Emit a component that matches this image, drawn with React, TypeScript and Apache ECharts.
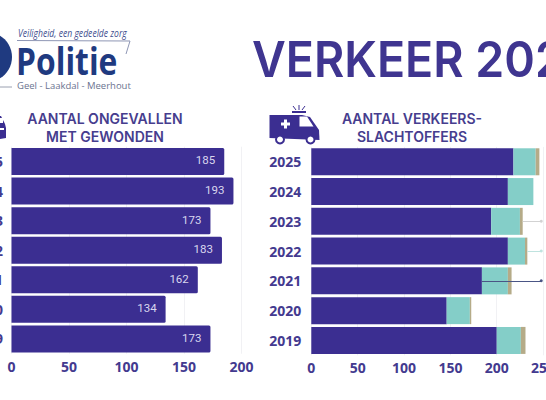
import React, { useEffect, useRef } from "react";
import * as echarts from "echarts";

const years = ["2025", "2024", "2023", "2022", "2021", "2020", "2019"];
const accidents = [185, 193, 173, 183, 162, 134, 173];
const victimsLight = [218, 212, 194, 212, 184, 146, 200];
const victimsMiddle = [24, 27.5, 31, 18.5, 28, 25, 26];
const victimsHeavy = [4, 0, 3, 2.5, 4, 1.5, 5];
const leftTicksMax = 200;
const rightTicksMax = 250;

const PURPLE = "#3b2e91";
const TEAL = "#84cec8";
const TAN = "#b5ab88";
const TEXT = "#433a8f";
const FONT = "'Open Sans', sans-serif";

const BOLD = { color: TEXT, fontFamily: FONT, fontWeight: 700, fontSize: 14 };

const gridLine = { show: true, lineStyle: { color: "#f1f1f4", width: 1 } };

const txt = (x: number, y: number, text: string, style: any, scaleX = 1) => ({
  type: "text",
  x,
  y,
  scaleX,
  silent: true,
  style: { text, verticalAlign: "middle", ...style },
});

const heading = (x: number, y: number, text: string) =>
  txt(x, y, text, {
    fill: "#463d8e",
    fontFamily: "Inter, sans-serif",
    fontWeight: 600,
    fontSize: 14,
    align: "center",
  });

const graphics: any[] = [
  // logo
  { type: "circle", shape: { cx: -13, cy: 57, r: 25 }, style: { fill: "#1f3a80" } },
  { type: "line", shape: { x1: 0, y1: 87, x2: 12, y2: 87 }, style: { stroke: "#9aa0b0", lineWidth: 1 } },
  txt(18, 33, "Veiligheid, een gedeelde zorg", {
    fill: "#3f4f8f",
    fontFamily: "'Open Sans', sans-serif",
    fontStyle: "italic",
    fontSize: 10,
  }, 0.86),
  { type: "polyline", shape: { points: [[17, 40.5], [130, 41], [126, 54]] }, style: { fill: "none", stroke: "#8f97b5", lineWidth: 1 } },
  txt(16, 61, "Politie", { fill: "#1f3a80", fontFamily: "'Open Sans', sans-serif", fontWeight: 700, fontSize: 37 }, 0.86),
  txt(17, 85, "Geel - Laakdal - Meerhout", { fill: "#6b7390", fontFamily: "'Open Sans', sans-serif", fontSize: 9.5 }),
  // main title
  txt(252, 59, "VERKEER 2025", {
    fill: "#3f3590",
    fontFamily: "Inter, sans-serif",
    fontWeight: 600,
    fontSize: 50,
  }, 0.93),
  // headings
  heading(105, 118, "AANTAL ONGEVALLEN"),
  heading(105, 136, "MET GEWONDEN"),
  heading(412, 118, "AANTAL VERKEERS-"),
  heading(412, 136, "SLACHTOFFERS"),
  // car (clipped at the page edge)
  { type: "polygon", shape: { points: [[-6, 116], [1, 116], [5, 124], [6, 128], [6, 138], [-6, 140]] }, style: { fill: PURPLE } },
  { type: "rect", shape: { x: 0, y: 118, width: 3, height: 5 }, style: { fill: "#fff" } },
  { type: "rect", shape: { x: 0, y: 128, width: 4, height: 2 }, style: { fill: "#fff" } },
  // ambulance
  {
    type: "polygon",
    shape: { points: [[269.5, 115], [302, 115], [310, 117], [319, 130], [319.5, 140], [269.5, 138]] },
    style: { fill: PURPLE },
  },
  { type: "polygon", shape: { points: [[299.5, 116.5], [307, 116.5], [313.5, 126.5], [299.5, 126.5]] }, style: { fill: "#fff" } },
  { type: "rect", shape: { x: 281, y: 122.5, width: 9, height: 3 }, style: { fill: "#fff" } },
  { type: "rect", shape: { x: 284, y: 119.5, width: 3, height: 9 }, style: { fill: "#fff" } },
  { type: "circle", shape: { cx: 280, cy: 139.5, r: 4 }, style: { fill: "#fff", stroke: PURPLE, lineWidth: 2 } },
  { type: "circle", shape: { cx: 310.5, cy: 139.5, r: 4 }, style: { fill: "#fff", stroke: PURPLE, lineWidth: 2 } },
  { type: "line", shape: { x1: 299, y1: 105, x2: 299, y2: 110 }, style: { stroke: PURPLE, lineWidth: 1 } },
  { type: "line", shape: { x1: 293, y1: 106, x2: 296, y2: 110 }, style: { stroke: PURPLE, lineWidth: 1 } },
  { type: "line", shape: { x1: 305, y1: 106, x2: 302, y2: 110 }, style: { stroke: PURPLE, lineWidth: 1 } },
  { type: "line", shape: { x1: 292, y1: 112, x2: 306, y2: 112 }, style: { stroke: PURPLE, lineWidth: 2 } },
];

export default function App() {
  const ref = useRef<HTMLDivElement>(null);
  useEffect(() => {
    document.body.style.margin = "0";
    const chart = echarts.init(ref.current!, undefined, { renderer: "svg" });
    const leader = (from: number, year: string, color: string) => [
      { coord: [from, year], lineStyle: { color, width: 1, type: "solid" } },
      { coord: [rightTicksMax - 2, year] },
    ];
    chart.setOption({
      animation: false,
      backgroundColor: "#ffffff",
      grid: [
        { left: 11.5, top: 146.7, width: 230, height: 207, outerBoundsMode: "none", containLabel: false },
        { left: 311.3, top: 146.9, width: 231.8, height: 208.4, outerBoundsMode: "none", containLabel: false },
      ],
      xAxis: [
        {
          gridIndex: 0, type: "value", min: 0, max: leftTicksMax, interval: 50,
          axisLine: { show: false }, axisTick: { show: false }, splitLine: gridLine,
          axisLabel: { ...BOLD, margin: 6, hideOverlap: false },
        },
        {
          gridIndex: 1, type: "value", min: 0, max: rightTicksMax, interval: 50,
          axisLine: { show: false }, axisTick: { show: false }, splitLine: gridLine,
          axisLabel: { ...BOLD, margin: 5, hideOverlap: false },
        },
      ],
      yAxis: [
        {
          gridIndex: 0, type: "category", data: years, inverse: true,
          axisLine: { show: false }, axisTick: { show: false },
          axisLabel: { ...BOLD, margin: 8.5, interval: 0 },
        },
        {
          gridIndex: 1, type: "category", data: years, inverse: true,
          axisLine: { show: false }, axisTick: { show: false },
          axisLabel: { ...BOLD, margin: 10, interval: 0 },
        },
      ],
      series: [
        {
          type: "bar", xAxisIndex: 0, yAxisIndex: 0, data: accidents, barWidth: 27,
          itemStyle: { color: PURPLE, borderRadius: [0, 1.5, 1.5, 0] },
          label: {
            show: true, position: "insideRight", distance: 9, offset: [0, -1],
            color: "#d9d6ee", fontFamily: "Roboto, sans-serif", fontSize: 11.5,
          },
        },
        {
          type: "bar", xAxisIndex: 1, yAxisIndex: 1, data: victimsLight, stack: "v", barWidth: 27,
          itemStyle: { color: PURPLE },
        },
        {
          type: "bar", xAxisIndex: 1, yAxisIndex: 1, data: victimsMiddle, stack: "v", barWidth: 27,
          itemStyle: { color: TEAL },
        },
        {
          type: "bar", xAxisIndex: 1, yAxisIndex: 1, data: victimsHeavy, stack: "v", barWidth: 27,
          itemStyle: { color: TAN },
          markLine: {
            silent: true, animation: false, symbol: ["none", "circle"], symbolSize: 3,
            label: { show: false },
            data: [
              leader(228, "2023", "#d2d2d2"),
              leader(233, "2022", "#bfe3df"),
              leader(184, "2021", "#4a5585"),
            ],
          },
        },
      ],
      graphic: graphics,
    });
    return () => chart.dispose();
  }, []);
  return <div ref={ref} style={{ width: 546, height: 400 }} />;
}
